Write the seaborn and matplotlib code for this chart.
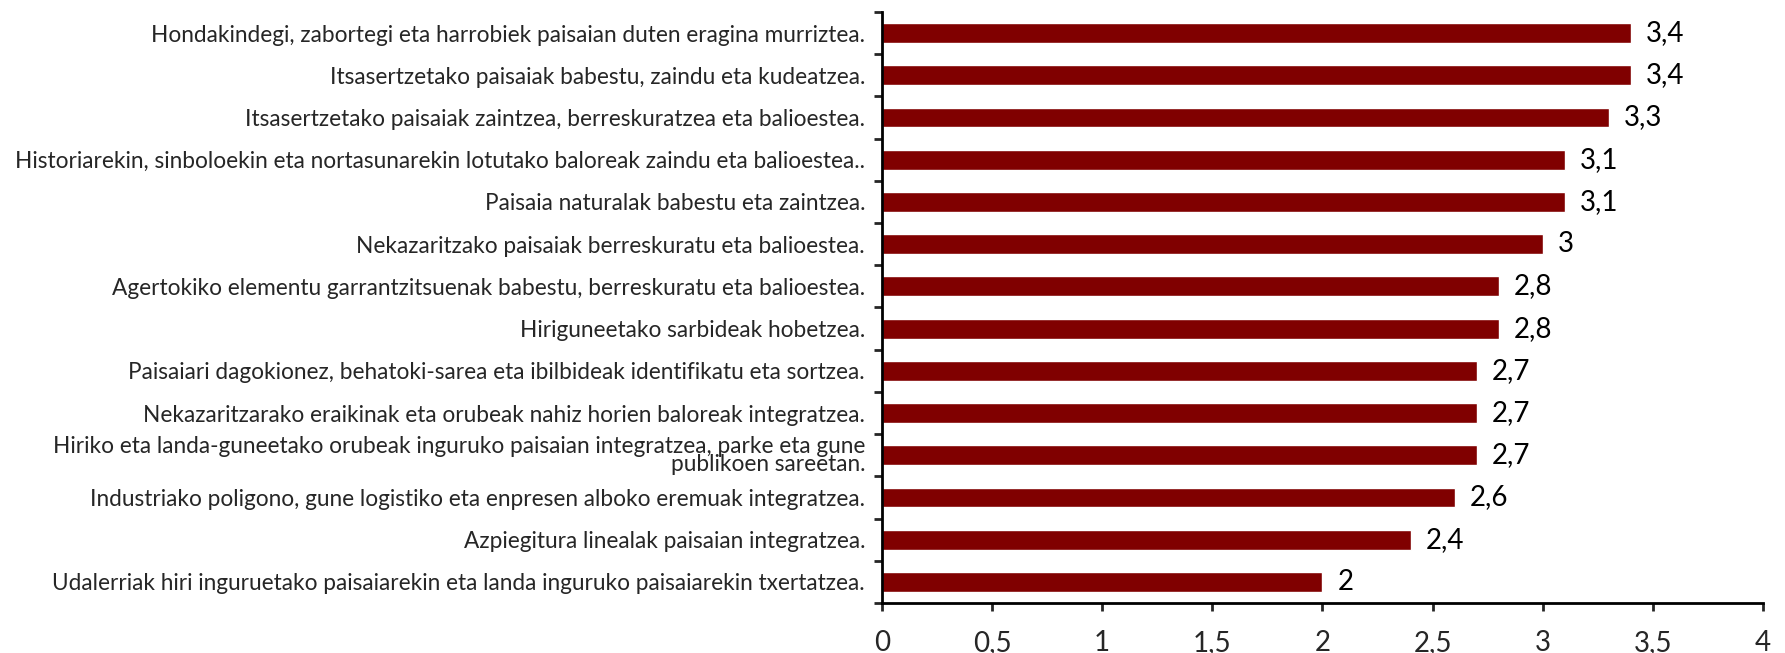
import matplotlib
matplotlib.use("Agg")
import matplotlib.pyplot as plt
from matplotlib.ticker import FixedLocator, FuncFormatter
import numpy as np
import pandas as pd
import seaborn as sns

labels = [
    "Hondakindegi, zabortegi eta harrobiek paisaian duten eragina murriztea.",
    "Itsasertzetako paisaiak babestu, zaindu eta kudeatzea.",
    "Itsasertzetako paisaiak zaintzea, berreskuratzea eta balioestea.",
    "Historiarekin, sinboloekin eta nortasunarekin lotutako baloreak zaindu eta balioestea..",
    "Paisaia naturalak babestu eta zaintzea.",
    "Nekazaritzako paisaiak berreskuratu eta balioestea.",
    "Agertokiko elementu garrantzitsuenak babestu, berreskuratu eta balioestea.",
    "Hiriguneetako sarbideak hobetzea.",
    "Paisaiari dagokionez, behatoki-sarea eta ibilbideak identifikatu eta sortzea.",
    "Nekazaritzarako eraikinak eta orubeak nahiz horien baloreak integratzea.",
    "Hiriko eta landa-guneetako orubeak inguruko paisaian integratzea, parke eta gune\npublikoen sareetan.",
    "Industriako poligono, gune logistiko eta enpresen alboko eremuak integratzea.",
    "Azpiegitura linealak paisaian integratzea.",
    "Udalerriak hiri inguruetako paisaiarekin eta landa inguruko paisaiarekin txertatzea.",
]
values = [3.4, 3.4, 3.3, 3.1, 3.1, 3.0, 2.8, 2.8, 2.7, 2.7, 2.7, 2.6, 2.4, 2.0]
xticks = [0, 0.5, 1, 1.5, 2, 2.5, 3, 3.5, 4]

df = pd.DataFrame({"label": labels, "value": values})


def comma(v):
    return f"{v:g}".replace(".", ",")


sns.set_style("white")
plt.rcParams["font.family"] = ["Lato", "DejaVu Sans"]

fig, ax = plt.subplots(figsize=(17.85, 6.53), dpi=100)
fig.subplots_adjust(left=0.494, right=0.9877, top=0.9816, bottom=0.0766)

sns.barplot(data=df, x="value", y="label", orient="h", color="#800000",
            saturation=1, width=0.47, ax=ax)

ax.bar_label(ax.containers[0], labels=[comma(v) for v in values],
             padding=11, fontsize=20, color="black")

ax.set_xlim(0, 4)
ax.set_ylim(len(labels) - 0.5, -0.5)
ax.set_xticks(xticks)
ax.xaxis.set_major_formatter(FuncFormatter(lambda v, p: comma(v)))
ax.set_xlabel("")
ax.set_ylabel("")

for s in ["top", "right"]:
    ax.spines[s].set_visible(False)
for s in ["left", "bottom"]:
    ax.spines[s].set_linewidth(2)
    ax.spines[s].set_color("black")

ax.yaxis.set_minor_locator(FixedLocator(np.arange(-0.5, len(labels), 1)))
ax.tick_params(axis="y", which="major", length=0, pad=12, labelsize=16.3)
ax.tick_params(axis="y", which="minor", length=6, width=2, direction="out", left=True)
ax.tick_params(axis="x", which="major", length=6, width=2, direction="out",
               bottom=True, pad=13.5, labelsize=20)
for t in ax.get_yticklabels():
    t.set_linespacing(0.8)

fig.savefig("out.png", dpi=100)
